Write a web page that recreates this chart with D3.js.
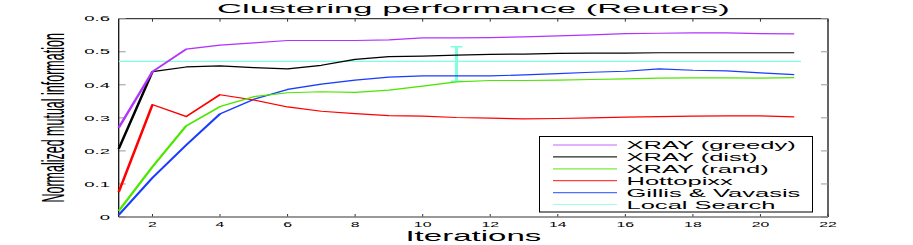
<!DOCTYPE html>
<html>
<head>
<meta charset="utf-8">
<script src="https://cdn.jsdelivr.net/npm/d3@7.9.0/dist/d3.min.js"></script>
<style>
  body { margin: 0; background: #fff; }
  text { font-family: "Liberation Sans", Arial, Helvetica, sans-serif; fill: #000; }
</style>
</head>
<body>
<svg id="chart" width="913" height="245"></svg>
<script>
// values
const iterations = [1, 2, 3, 4, 5, 6, 7, 8, 9, 10, 11, 12, 13, 14, 15, 16, 17, 18, 19, 20, 21];
const xrayGreedy = [0.270, 0.440, 0.508, 0.520, 0.527, 0.534, 0.534, 0.534, 0.536, 0.542, 0.542, 0.543, 0.545, 0.548, 0.551, 0.555, 0.556, 0.557, 0.557, 0.555, 0.554];
const xrayDist   = [0.206, 0.440, 0.454, 0.457, 0.452, 0.448, 0.459, 0.477, 0.485, 0.487, 0.490, 0.492, 0.493, 0.495, 0.496, 0.496, 0.497, 0.497, 0.497, 0.497, 0.497];
const xrayRand   = [0.018, 0.152, 0.276, 0.334, 0.364, 0.376, 0.379, 0.377, 0.384, 0.396, 0.409, 0.413, 0.413, 0.414, 0.416, 0.418, 0.420, 0.421, 0.421, 0.420, 0.422];
const hottopixx  = [0.075, 0.340, 0.304, 0.370, 0.354, 0.333, 0.320, 0.313, 0.307, 0.305, 0.301, 0.299, 0.297, 0.298, 0.300, 0.302, 0.304, 0.305, 0.306, 0.306, 0.303];
const gillis     = [0.006, 0.119, 0.218, 0.312, 0.356, 0.386, 0.402, 0.414, 0.423, 0.427, 0.427, 0.427, 0.430, 0.434, 0.438, 0.441, 0.448, 0.444, 0.442, 0.436, 0.431];

// local search: flat line with one error bar
const localSearchX = [1, 21.2];
const localSearchY = 0.471;
const errBarX = 11;
const errBarLow = 0.411;
const errBarHigh = 0.515;

const seriesNames = ['XRAY (greedy)', 'XRAY (dist)', 'XRAY (rand)', 'Hottopixx', 'Gillis & Vavasis', 'Local Search'];
const seriesColors = ['#b133ff', '#000000', '#4ce600', '#ff0000', '#1a3cff', '#80ffe0'];

const xTicks = [2, 4, 6, 8, 10, 12, 14, 16, 18, 20, 22];
const yTicks = [0, 0.1, 0.2, 0.3, 0.4, 0.5, 0.6];

// layout (the original figure is stretched sideways)
const K = 2.2;
const pLeft = 118.7, pRight = 828, pTop = 18.7, pBottom = 217;

const svg = d3.select('#chart');

const x = d3.scaleLinear().domain([1, 22]).range([pLeft, pRight]);
const y = d3.scaleLinear().domain([0, 0.6]).range([pBottom, pTop]);
// same x scale but in the squeezed frame used by the stretched line group
const xs = d3.scaleLinear().domain([1, 22]).range([pLeft / K, pRight / K]);

function wideText(parent, px, py, str, size, sx, anchor) {
  const g = parent.append('g').attr('transform', `translate(${px},${py}) scale(${sx},1)`);
  g.append('text')
    .attr('font-size', size)
    .attr('text-anchor', anchor || 'start')
    .text(str);
  return g;
}

// title
wideText(svg, (pLeft + pRight) / 2, 12.5, 'Clustering performance (Reuters)', 13.4, 2.58, 'middle');

// axes box
const axisG = svg.append('g');

axisG.append('line').attr('x1', pLeft).attr('x2', pRight).attr('y1', pTop).attr('y2', pTop)
  .attr('stroke', '#111').attr('stroke-width', 1);
axisG.append('line').attr('x1', pRight).attr('x2', pRight).attr('y1', pTop).attr('y2', pBottom)
  .attr('stroke', '#111').attr('stroke-width', 1.3);

// ticks
xTicks.forEach((t) => {
  axisG.append('line').attr('x1', x(t)).attr('x2', x(t)).attr('y1', pTop).attr('y2', pTop + 3)
    .attr('stroke', '#333');
  axisG.append('line').attr('x1', x(t)).attr('x2', x(t)).attr('y1', pBottom).attr('y2', pBottom - 3)
    .attr('stroke', '#333');
  wideText(axisG, x(t), 226.5, d3.format('d')(t), 7.2, 2.2, 'middle');
});

yTicks.forEach((t) => {
  axisG.append('line').attr('x1', pLeft).attr('x2', pLeft + 7).attr('y1', y(t)).attr('y2', y(t))
    .attr('stroke', '#999');
  axisG.append('line').attr('x1', pRight).attr('x2', pRight - 7).attr('y1', y(t)).attr('y2', y(t))
    .attr('stroke', '#999');
  wideText(axisG, 110, y(t) + 2.7, t === 0 ? '0' : d3.format('.1f')(t), 7.4, 2.5, 'end');
});

axisG.append('line').attr('x1', pLeft).attr('x2', pLeft).attr('y1', pTop).attr('y2', pBottom)
  .attr('stroke', '#111').attr('stroke-width', 1.3);
axisG.append('line').attr('x1', pLeft).attr('x2', pRight).attr('y1', pBottom).attr('y2', pBottom)
  .attr('stroke', '#777').attr('stroke-width', 1.6);

// axis labels
wideText(svg, (pLeft + pRight) / 2, 241, 'Iterations', 14, 2.36, 'middle');

const yl = svg.append('g').attr('transform', `translate(64,${(pTop + pBottom) / 2}) rotate(-90) scale(1,2.5)`);
yl.append('text').attr('font-size', 12.5).attr('text-anchor', 'middle').text('Normalized mutual information');

// series lines, drawn in a squeezed frame then stretched
const lineG = svg.append('g').attr('transform', `scale(${K},1)`);

const line = d3.line()
  .x((d) => xs(d[0]))
  .y((d) => y(d[1]));

lineG.append('line')
  .attr('x1', xs(localSearchX[0])).attr('x2', xs(localSearchX[1]))
  .attr('y1', y(localSearchY)).attr('y2', y(localSearchY))
  .attr('stroke', seriesColors[5]).attr('stroke-width', 1.2);

lineG.append('line')
  .attr('x1', xs(errBarX)).attr('x2', xs(errBarX))
  .attr('y1', y(errBarLow)).attr('y2', y(errBarHigh))
  .attr('stroke', seriesColors[5]).attr('stroke-width', 1.4);
[errBarLow, errBarHigh].forEach((v) => {
  lineG.append('line')
    .attr('x1', xs(errBarX) - 6 / K).attr('x2', xs(errBarX) + 6 / K)
    .attr('y1', y(v)).attr('y2', y(v))
    .attr('stroke', seriesColors[5]).attr('stroke-width', 1.6);
});

const allSeries = [xrayGreedy, xrayDist, xrayRand, hottopixx, gillis];
// draw back to front so purple sits on top like the original
[4, 3, 2, 1, 0].forEach((i) => {
  lineG.append('path')
    .datum(iterations.map((it, j) => [it, allSeries[i][j]]))
    .attr('d', line)
    .attr('fill', 'none')
    .attr('stroke', seriesColors[i])
    .attr('stroke-width', 1.2)
    .attr('stroke-linejoin', 'round');
});

// legend
const lg = svg.append('g');
lg.append('rect')
  .attr('x', 539.5).attr('y', 136.5)
  .attr('width', 273).attr('height', 75.5)
  .attr('fill', '#fff').attr('stroke', '#000').attr('stroke-width', 1);

seriesNames.forEach((name, i) => {
  const ly = 145 + i * 11.9;
  lg.append('line')
    .attr('x1', 553).attr('x2', 617)
    .attr('y1', ly).attr('y2', ly)
    .attr('stroke', seriesColors[i]).attr('stroke-width', 1.2)
    .attr('stroke-opacity', i === 1 ? 0.85 : 0.75);
  wideText(lg, 626.5, ly + 4.2, name, 11.6, 2.2, 'start');
});
</script>
</body>
</html>
